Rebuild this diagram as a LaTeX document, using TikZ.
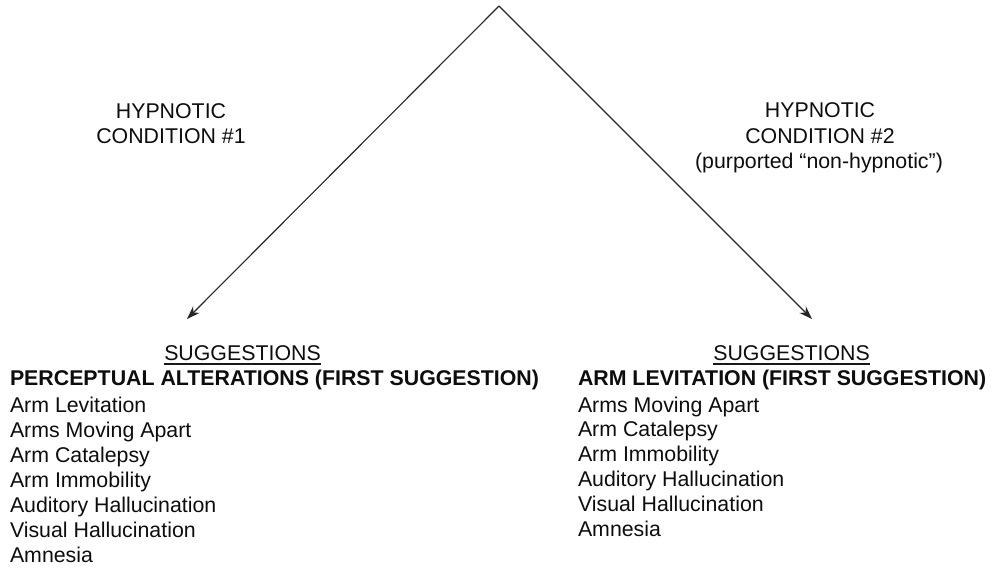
\documentclass[tikz,border=0pt]{standalone}
\usepackage{fontspec}
\setmainfont{Liberation Sans}
\usetikzlibrary{arrows.meta}
\begin{document}
\begin{tikzpicture}[x=0.75pt,y=-0.75pt,
  lbl/.style={inner sep=0pt,outer sep=0pt,anchor=base,text=black!95,font=\fontsize{16}{18.75}\selectfont},
  item/.style={lbl,anchor=base west},
  head/.style={item,font=\fontsize{16}{18.75}\selectfont\bfseries},
  conn/.style={draw=black!85,line width=0.85pt,-{Stealth[length=10pt,width=7pt]}},
  uline/.style={draw=black!90,line width=0.8pt}]
\useasboundingbox (0,0) rectangle (998,567);
% apex and arrow ends
\coordinate (apex) at (499,6);
\coordinate (tipL) at (187,319);
\coordinate (tipR) at (812,319);
\draw[conn] (apex) -- (tipL);
\draw[conn] (apex) -- (tipR);
% condition labels
\node[lbl] (c1a) at (171,118) {HYPNOTIC};
\node[lbl] (c1b) at (171,143) {CONDITION \#1};
\node[lbl] (c2a) at (820,117) {HYPNOTIC};
\node[lbl] (c2b) at (820,143) {CONDITION \#2};
\node[lbl] (c2c) at (819,168) {(purported “non-hypnotic”)};
% left block
\node[lbl] (sL) at (242.5,360) {SUGGESTIONS};
\draw[uline] ([yshift=-3pt]sL.base west) -- ([yshift=-3pt]sL.base east);
\node[head] (hL) at (10,385) {PERCEPTUAL ALTERATIONS (FIRST SUGGESTION)};
\foreach \t [count=\i from 0] in {Arm Levitation,Arms Moving Apart,Arm Catalepsy,Arm Immobility,Auditory Hallucination,Visual Hallucination,Amnesia}
  \node[item] (L\i) at (10,412+25*\i) {\t};
% right block
\node[lbl] (sR) at (791.5,360) {SUGGESTIONS};
\draw[uline] ([yshift=-3pt]sR.base west) -- ([yshift=-3pt]sR.base east);
\node[head] (hR) at (578,385) {ARM LEVITATION (FIRST SUGGESTION)};
\foreach \t [count=\i from 0] in {Arms Moving Apart,Arm Catalepsy,Arm Immobility,Auditory Hallucination,Visual Hallucination,Amnesia}
  \node[item] (R\i) at (578,412+24.8*\i) {\t};
\end{tikzpicture}
\end{document}
